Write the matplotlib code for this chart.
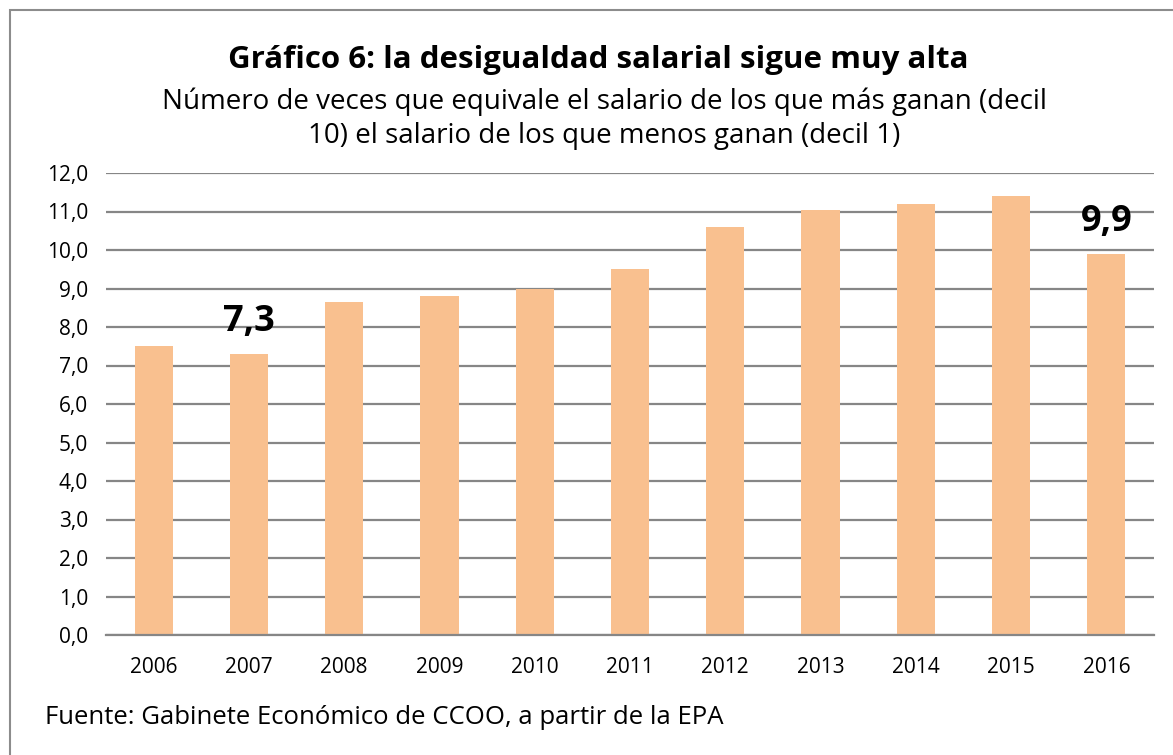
import matplotlib
matplotlib.use("Agg")
import matplotlib.pyplot as plt
from matplotlib.patches import Rectangle

years = ["2006", "2007", "2008", "2009", "2010", "2011", "2012", "2013", "2014", "2015", "2016"]
ratio = [7.5, 7.3, 8.65, 8.8, 9.0, 9.5, 10.6, 11.05, 11.2, 11.4, 9.9]
labelled = {1: "7,3", 10: "9,9"}
yticks = [0, 1, 2, 3, 4, 5, 6, 7, 8, 9, 10, 11, 12]

title = "Gráfico 6: la desigualdad salarial sigue muy alta"
subtitle = "Número de veces que equivale el salario de los que más ganan (decil\n10) el salario de los que menos ganan (decil 1)"
source = "Fuente: Gabinete Económico de CCOO, a partir de la EPA"

plt.rcParams['font.family'] = ['Open Sans', 'DejaVu Sans']

W, H = 1173, 755
fig = plt.figure(figsize=(W / 100, H / 100), dpi=100)
fig.patch.set_facecolor("white")

# chart border (only top/left visible in reference)
fig.add_artist(Rectangle((10 / W, -0.05), 1.2, 1 - 10 / H + 0.05, transform=fig.transFigure,
                         fill=False, edgecolor="#8c8c8c", linewidth=1.5))

ax = fig.add_axes([106 / W, 1 - 635 / H, (1154 - 106) / W, (635 - 173) / H])
x = range(len(years))
ax.bar(x, ratio, width=0.4, color="#F9C08F", zorder=3)
ax.set_xlim(-0.5, len(years) - 0.5)
ax.set_ylim(0, 12)
ax.set_yticks(yticks)
ax.set_yticklabels([f"{v:.1f}".replace(".", ",") for v in yticks], fontsize=15)
ax.set_xticks(list(x))
ax.set_xticklabels(years, fontsize=15)
ax.tick_params(axis="both", length=0, colors="black")
ax.tick_params(axis="x", pad=16)
ax.tick_params(axis="y", pad=13)
ax.grid(axis="y", color="#868686", linewidth=1.6, zorder=0)
for s in ["top", "right", "left"]:
    ax.spines[s].set_visible(False)
ax.spines["bottom"].set_color("#868686")
ax.spines["bottom"].set_linewidth(1.6)
ax.spines["bottom"].set_zorder(4)

for i, txt in labelled.items():
    ax.annotate(txt, (i, ratio[i]), xytext=(0, 10), textcoords="offset points",
                ha="center", va="bottom", fontsize=26, fontweight="bold", zorder=5)

fig.text(598 / W, 1 - 60 / H, title, ha="center", va="center", fontsize=22.5, fontweight="bold")
fig.text(604 / W, 1 - 119 / H, subtitle, ha="center", va="center", fontsize=20, linespacing=1.3)
fig.text(45 / W, 1 - 718 / H, source, ha="left", va="center", fontsize=18.5)

fig.savefig("out.png", dpi=100)
